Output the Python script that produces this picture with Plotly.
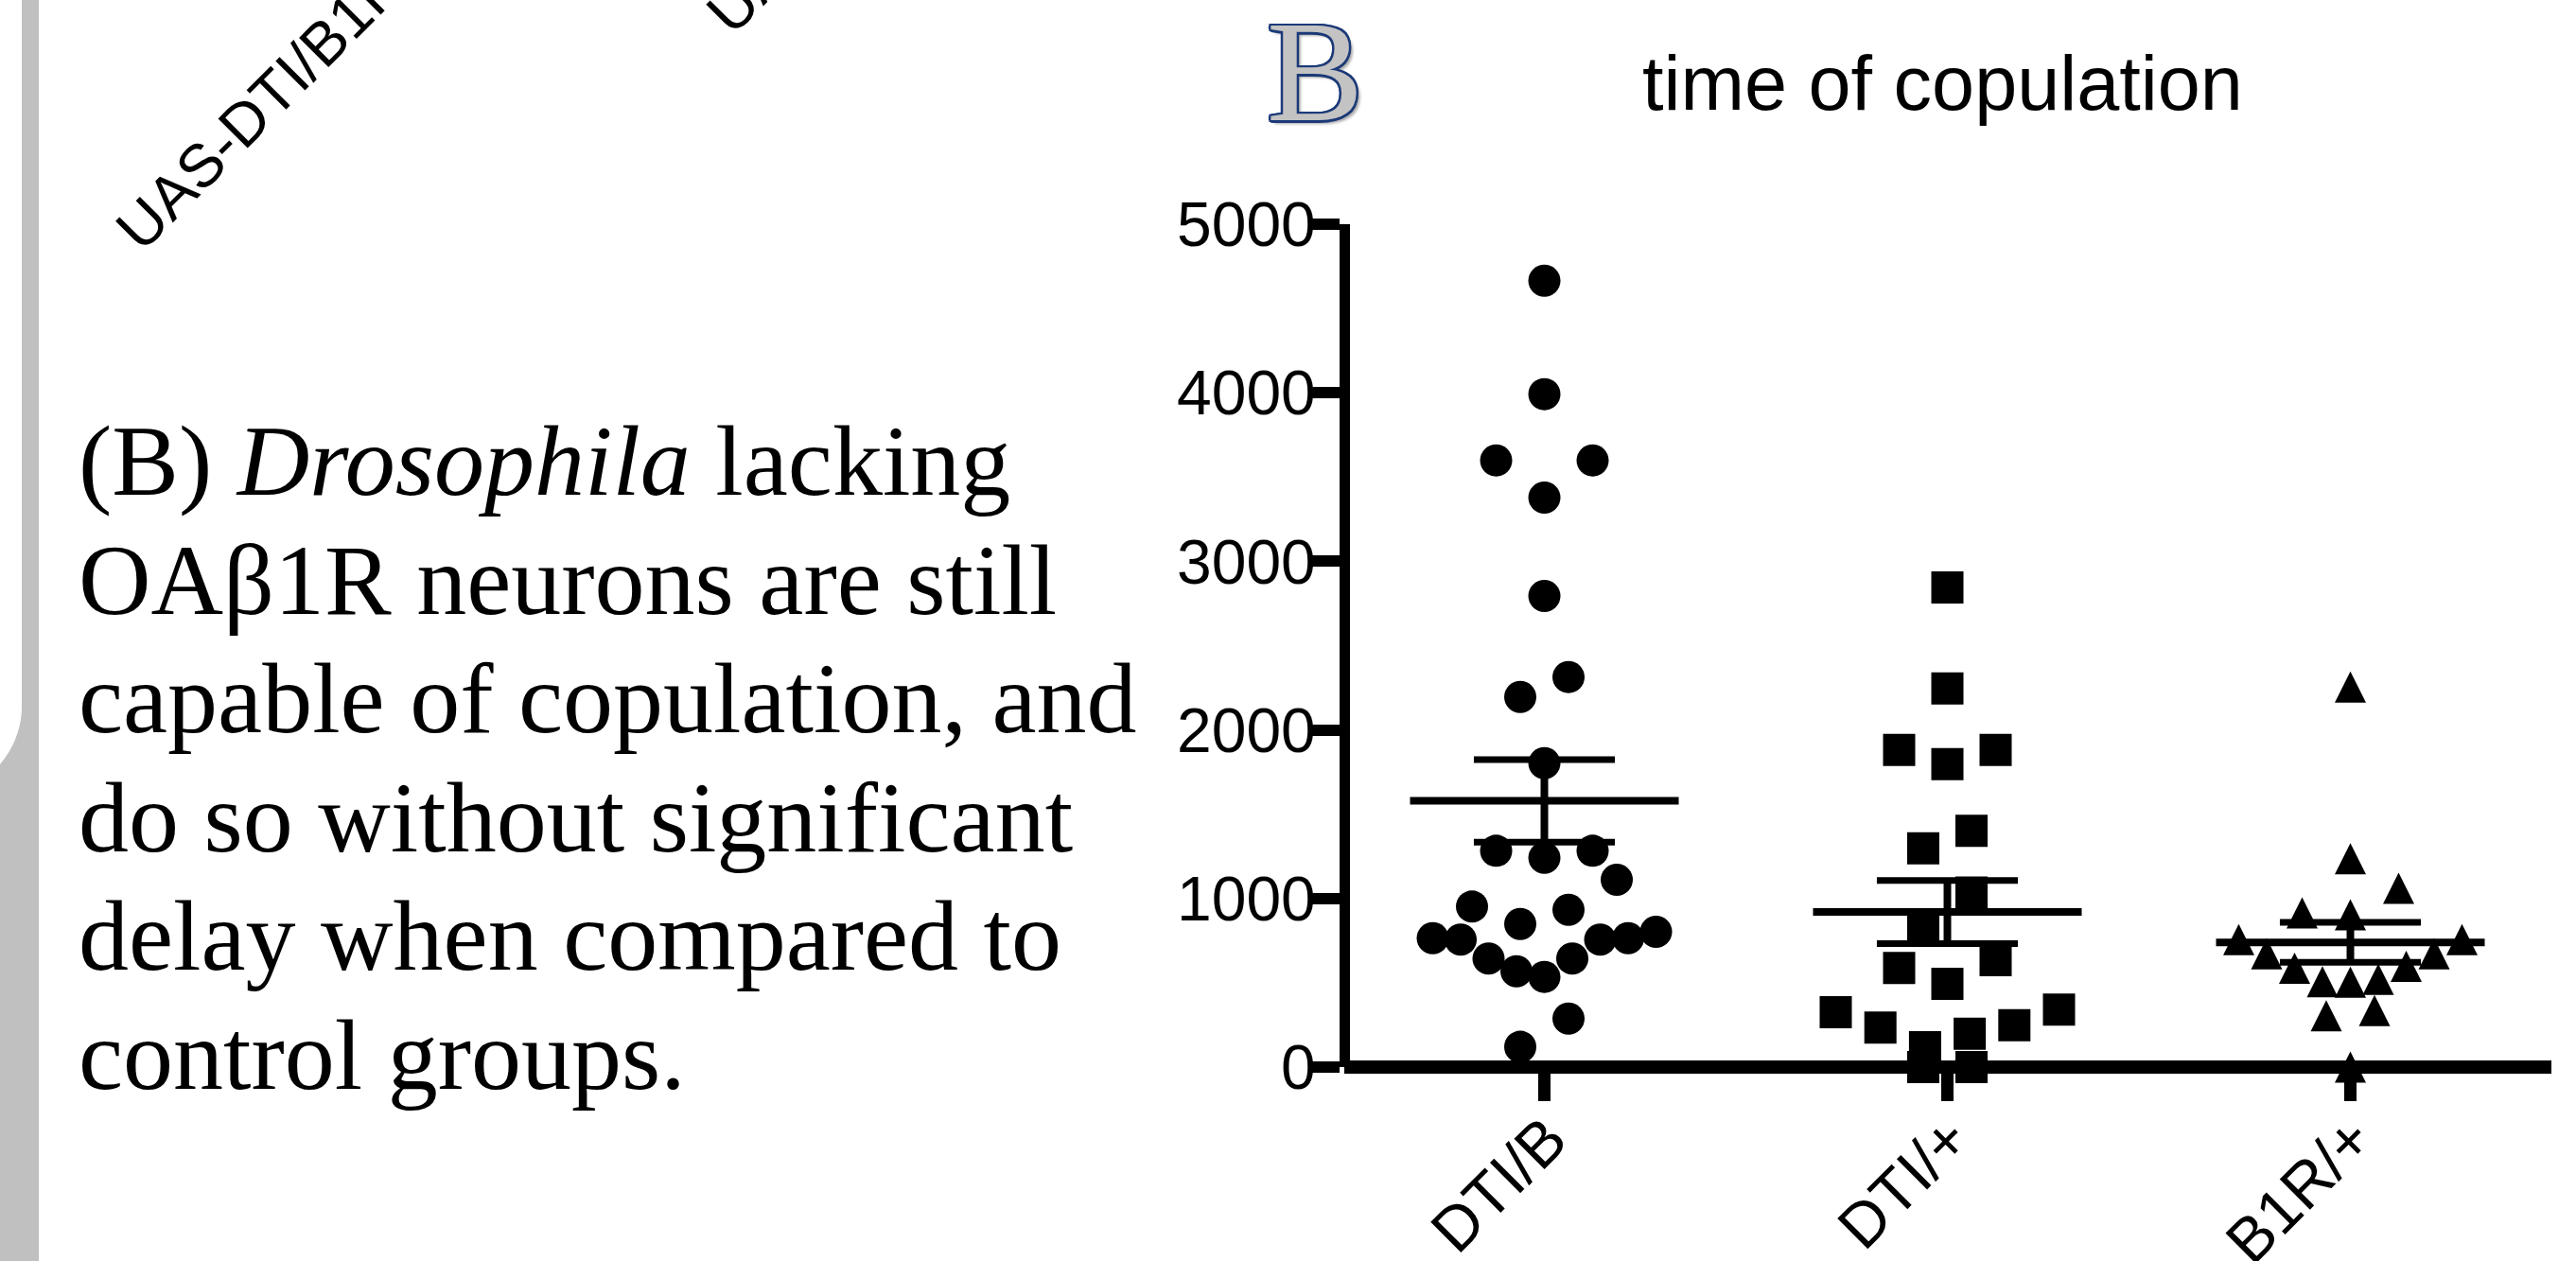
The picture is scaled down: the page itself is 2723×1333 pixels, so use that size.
import numpy as np
import plotly.graph_objects as go

W, H = 2723, 1333

# ---------------- data ----------------
categories = ["DTI/B", "DTI/+", "B1R/+"]
dti_b = [4665, 3992, 3599, 3599, 3378, 2795, 2314, 2196, 1803,
         1283, 1242, 1283, 1111, 952, 933, 849,
         765, 756, 644, 568, 535, 644, 756, 765, 802, 288, 120]
dti_plus = [2845, 2246, 1882, 1882, 1797, 1401, 1298, 1036, 836,
            634, 588, 494, 341, 325, 234, 198, 249, 118, 0, 0]
b1r_plus = [2254, 1236, 1060, 903, 915, 756, 756, 672, 672,
            587, 597, 506, 503, 520, 335, 304, 0]
y_tick_values = [0, 1000, 2000, 3000, 4000, 5000]
y_tick_labels = ["0", "1000", "2000", "3000", "4000", "5000"]
chart_title = "time of copulation"
panel_letter = "B"
caption_lines = [
    "(B) <i>Drosophila</i> lacking",
    "OA\u03b21R neurons are still",
    "capable of copulation, and",
    "do so without significant",
    "delay when compared to",
    "control groups.",
]
cut_labels = ["UAS-DTI/B1R", "UAS-DTI/+"]

# ---------------- layout constants ----------------
PLOT_L, PLOT_R = 1421, 2697        # px of plot area (y axis line centre / x axis end)
ZERO_Y, TOP_Y = 1128, 237          # px of value 0 and value 5000
X_RANGE = [0.5035, 3.4988]
Y_RANGE = [0, 5000]
CAT_PX = (PLOT_R - PLOT_L) / (X_RANGE[1] - X_RANGE[0])
PX_PER_UNIT = (ZERO_Y - TOP_Y) / (Y_RANGE[1] - Y_RANGE[0])

SLOT = 51 / CAT_PX
MAX_HALF = 118 / CAT_PX
BIN_W, BIN_ORIGIN = 400, 25
MEAN_HALF = 1 / 3
CAP_HALF = 0.175

CIRCLE_SIZE, SQUARE_SIZE, TRI_SIZE = 34, 34, 33
AXIS_FONT = "Liberation Sans, Arial, sans-serif"
SERIF_FONT = "Liberation Serif, Times New Roman, serif"


def px(x):
    return x / W


def py(y):
    return 1 - y / H


def swarm_offsets(values):
    """Prism-like row layout: points binned by value, spread outside-in."""
    vals = np.asarray(values, dtype=float)
    bins = np.floor((vals - BIN_ORIGIN) / BIN_W).astype(int)
    offs = np.zeros(len(vals))
    for b in np.unique(bins):
        idx = np.where(bins == b)[0]
        idx = idx[np.argsort(-vals[idx], kind="stable")]
        n = len(idx)
        step = min(SLOT, 2 * MAX_HALF / (n - 1)) if n > 1 else 0.0
        slots = [k - (n - 1) / 2 for k in range(n)]
        order, lo, hi, right = [], 0, n - 1, True
        while lo <= hi:
            if right:
                order.append(slots[hi]); hi -= 1
            else:
                order.append(slots[lo]); lo += 1
            right = not right
        for i, s in zip(idx, order):
            offs[i] = s * step
    return offs


groups = [dti_b, dti_plus, b1r_plus]
symbols = ["circle", "square", "arrow-up"]
sizes = [CIRCLE_SIZE, SQUARE_SIZE, TRI_SIZE]

fig = go.Figure()

for gi, (vals, sym, sz) in enumerate(zip(groups, symbols, sizes)):
    xs = (gi + 1) + swarm_offsets(vals)
    fig.add_trace(go.Scatter(
        x=xs, y=vals, mode="markers",
        marker=dict(symbol=sym, size=sz, color="black", line=dict(width=0)),
        yaxis="y2" if sym == "arrow-up" else "y",
        cliponaxis=False, hoverinfo="skip", showlegend=False,
    ))

# mean and SEM
mx, my, sx, sy, cx, cy = [], [], [], [], [], []
for gi, vals in enumerate(groups):
    v = np.asarray(vals, dtype=float)
    m = v.mean()
    sem = v.std(ddof=1) / np.sqrt(len(v))
    c = gi + 1
    mx += [c - MEAN_HALF, c + MEAN_HALF, None]
    my += [m, m, None]
    sx += [c, c, None]
    sy += [m - sem, m + sem, None]
    cx += [c - CAP_HALF, c + CAP_HALF, None, c - CAP_HALF, c + CAP_HALF, None]
    cy += [m + sem, m + sem, None, m - sem, m - sem, None]

fig.add_trace(go.Scatter(x=mx, y=my, mode="lines", line=dict(color="black", width=8),
                         hoverinfo="skip", showlegend=False, cliponaxis=False))
fig.add_trace(go.Scatter(x=sx, y=sy, mode="lines", line=dict(color="black", width=8),
                         hoverinfo="skip", showlegend=False, cliponaxis=False))
fig.add_trace(go.Scatter(x=cx, y=cy, mode="lines", line=dict(color="black", width=7),
                         hoverinfo="skip", showlegend=False, cliponaxis=False))

tri_shift = (TRI_SIZE / 2) / PX_PER_UNIT

annotations = []
# chart title
annotations.append(dict(text=chart_title, x=px(2053), y=py(135), xref="paper", yref="paper",
                        xanchor="center", yanchor="bottom", showarrow=False,
                        font=dict(family=AXIS_FONT, size=81, color="black")))
# caption text
for i, line in enumerate(caption_lines):
    base = 524 + 125.6 * i
    annotations.append(dict(text=line, x=px(81), y=py(base + 24), xref="paper", yref="paper",
                            xanchor="left", yanchor="bottom", showarrow=False,
                            font=dict(family=SERIF_FONT, size=106, color="black")))
# cut-off category labels of the panel above
for txt, (cxp, cyp) in zip(cut_labels, [(275, 112), (868, -86)]):
    annotations.append(dict(text=txt, x=px(cxp), y=py(cyp), xref="paper", yref="paper",
                            xanchor="center", yanchor="middle", showarrow=False, textangle=-45,
                            font=dict(family=AXIS_FONT, size=64, color="black")))

letter_font = dict(family=SERIF_FONT, size=153, color="#c3c3c3")
outline = ("2.5px 0 0 #1c3a78, -2.5px 0 0 #1c3a78, 0 2.5px 0 #1c3a78, 0 -2.5px 0 #1c3a78, "
           "2px 2px 0 #1c3a78, -2px -2px 0 #1c3a78, 2px -2px 0 #1c3a78, -2px 2px 0 #1c3a78, "
           "4px 4px 3px rgba(0,0,0,0.35)")
letter_ann = dict(text=panel_letter, x=px(1390), y=py(162), xref="paper", yref="paper",
                  xanchor="center", yanchor="bottom", showarrow=False, font=letter_font)
try:
    go.layout.Annotation(**dict(letter_ann, font=dict(letter_font, shadow=outline)))
    letter_ann["font"] = dict(letter_font, shadow=outline)
except Exception:
    pass
annotations.append(letter_ann)

# left gray frame
shapes = [
    dict(type="rect", xref="paper", yref="paper", x0=0, x1=px(41), y0=0, y1=1,
         fillcolor="#c0c0c0", line=dict(width=0), layer="below"),
    dict(type="path", xref="paper", yref="paper", layer="below",
         path=(f"M 0 1 L {px(23)} 1 L {px(23)} {py(747)} "
               f"C {px(23)} {py(769)} {px(14.7)} {py(790.5)} 0 {py(808)} Z"),
         fillcolor="white", line=dict(width=0)),
]

fig.update_layout(
    width=W, height=H,
    margin=dict(l=0, r=0, t=0, b=0, autoexpand=False),
    paper_bgcolor="white", plot_bgcolor="rgba(0,0,0,0)",
    showlegend=False,
    xaxis=dict(domain=[px(PLOT_L), px(PLOT_R)], range=X_RANGE,
               anchor="free", position=py(ZERO_Y),
               tickvals=[1, 2, 3], ticktext=categories, tickangle=-45,
               ticks="outside", ticklen=29, tickwidth=13, tickcolor="black",
               ticklabelstandoff=-25, ticklabelshift=4,
               showline=True, linewidth=14, linecolor="black",
               showgrid=False, zeroline=False,
               tickfont=dict(family=AXIS_FONT, size=66, color="black")),
    yaxis=dict(domain=[py(ZERO_Y), py(TOP_Y)], range=Y_RANGE,
               anchor="free", position=px(PLOT_L),
               tickvals=y_tick_values, ticktext=y_tick_labels,
               ticks="outside", ticklen=30, tickwidth=12, tickcolor="black",
               ticklabelstandoff=-18,
               showline=True, linewidth=11, linecolor="black",
               showgrid=False, zeroline=False,
               tickfont=dict(family=AXIS_FONT, size=66, color="black")),
    yaxis2=dict(overlaying="y", range=[Y_RANGE[0] - tri_shift, Y_RANGE[1] - tri_shift],
                visible=False, anchor="free", position=px(PLOT_L)),
    annotations=annotations,
    shapes=shapes,
)

fig.write_html("out.html",
               config={"displayModeBar": False, "staticPlot": True},
               post_script="document.body.style.margin='0px';document.body.style.overflow='hidden';")
